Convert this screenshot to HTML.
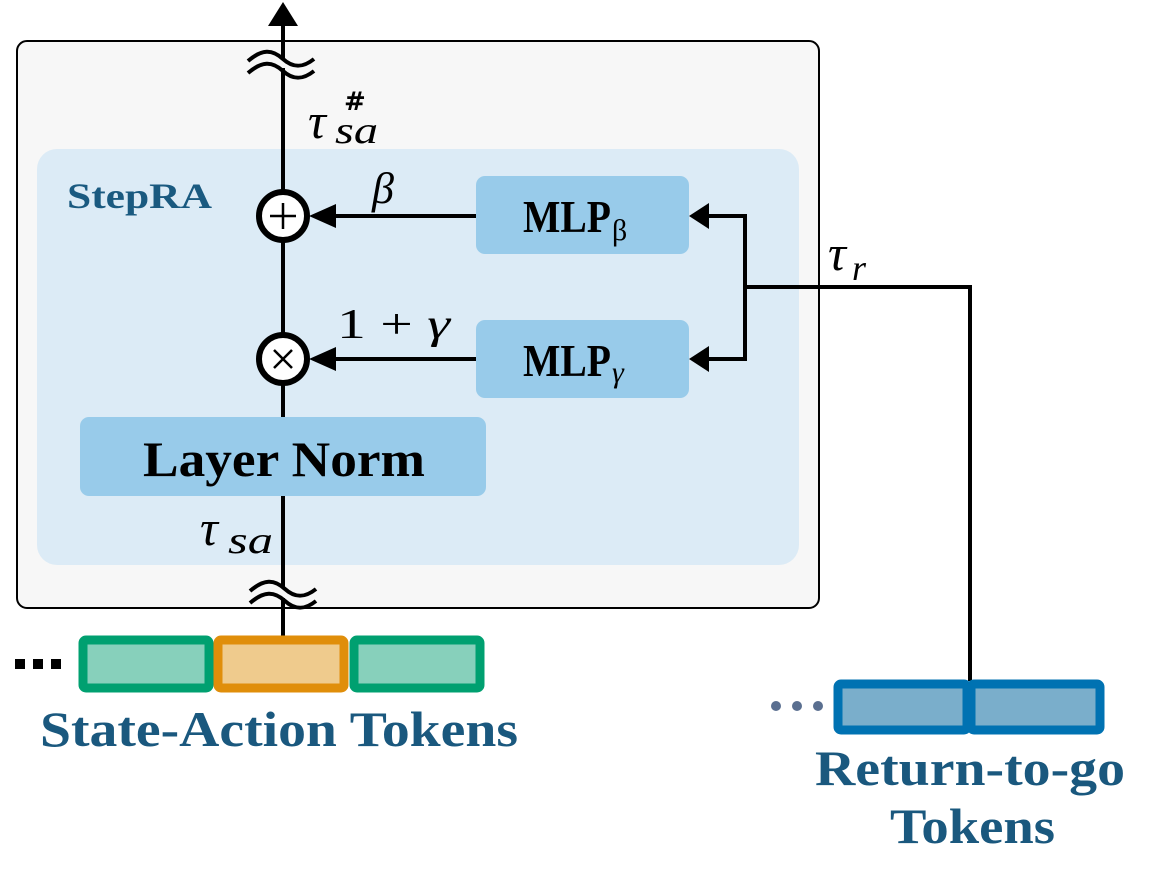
<!DOCTYPE html>
<html><head><meta charset="utf-8"><style>
html,body{margin:0;padding:0;background:#fff;}
svg{display:block;}
.m{font-family:"Liberation Serif",serif;font-style:italic;}
.b{font-family:"Liberation Serif",serif;font-weight:bold;}
</style></head><body>
<svg width="1163" height="891" viewBox="0 0 1163 891" xmlns="http://www.w3.org/2000/svg">
<rect x="17" y="41" width="802" height="567" rx="10" fill="#f7f7f7" stroke="#000" stroke-width="2"/>
<rect x="37" y="149" width="762" height="416" rx="20" fill="#dcebf6"/>
<text x="67" y="208" class="b" font-size="36" fill="#1a5a80" textLength="145" lengthAdjust="spacingAndGlyphs">StepRA</text>
<!-- main vertical -->
<line x1="283" y1="24" x2="283" y2="637" stroke="#000" stroke-width="4"/>
<polygon points="283,2 268,26 298,26" fill="#000"/>
<!-- squiggles -->
<rect x="276" y="58" width="14" height="10" fill="#f7f7f7"/>
<g fill="none" stroke="#000" stroke-width="4">
<path d="M248,61 C262,49 272,49 283,59 C294,69 304,67 314,59" />
<path d="M248,73 C262,61 272,61 283,71 C294,81 304,79 314,71" />
</g>
<rect x="276" y="588" width="14" height="10" fill="#f7f7f7"/>
<g fill="none" stroke="#000" stroke-width="4" transform="translate(2,530)">
<path d="M248,61 C262,49 272,49 283,59 C294,69 304,67 314,59" />
<path d="M248,73 C262,61 272,61 283,71 C294,81 304,79 314,71" />
</g>
<!-- labels -->
<text x="308" y="138" class="m" font-size="50">τ</text>
<text x="335" y="143" class="m" font-size="38" textLength="43" lengthAdjust="spacingAndGlyphs">sa</text>
<text x="344" y="110" font-family="DejaVu Sans,sans-serif" font-size="26" font-weight="bold">#</text>
<text x="200" y="545" class="m" font-size="50">τ</text>
<text x="228" y="553" class="m" font-size="38" textLength="45" lengthAdjust="spacingAndGlyphs">sa</text>
<text x="372" y="203" class="m" font-size="44">β</text>
<text x="337" y="338" font-family="Liberation Serif,serif" font-size="42" textLength="113" lengthAdjust="spacingAndGlyphs">1 + <tspan class="m">γ</tspan></text>
<text x="828" y="270" class="m" font-size="50">τ</text>
<text x="852" y="280" class="m" font-size="36">r</text>
<!-- circles -->
<circle cx="283" cy="216" r="24" fill="#fff" stroke="#000" stroke-width="6"/>
<path d="M283,203 V229 M270,216 H296" stroke="#000" stroke-width="2.5"/>
<circle cx="283" cy="359" r="24" fill="#fff" stroke="#000" stroke-width="6"/>
<path d="M274,350 L292,368 M292,350 L274,368" stroke="#000" stroke-width="2.5"/>
<!-- arrows into circles -->
<line x1="330" y1="216" x2="476" y2="216" stroke="#000" stroke-width="4"/>
<polygon points="309,216 336,204 336,228" fill="#000"/>
<line x1="330" y1="359" x2="476" y2="359" stroke="#000" stroke-width="4"/>
<polygon points="309,359 336,347 336,371" fill="#000"/>
<!-- boxes -->
<rect x="476" y="176" width="213" height="78" rx="9" fill="#98cbea"/>
<text x="523" y="232" class="b" font-size="46" textLength="88" lengthAdjust="spacingAndGlyphs">MLP</text>
<text x="612" y="240" font-family="Liberation Serif,serif" font-size="30">β</text>
<rect x="476" y="320" width="213" height="78" rx="9" fill="#98cbea"/>
<text x="523" y="376" class="b" font-size="46" textLength="88" lengthAdjust="spacingAndGlyphs">MLP</text>
<text x="612" y="382" class="m" font-size="30">γ</text>
<rect x="80" y="417" width="406" height="79" rx="9" fill="#98cbea"/>
<text x="143" y="476" class="b" font-size="50" textLength="282" lengthAdjust="spacingAndGlyphs">Layer Norm</text>
<!-- right connector -->
<path d="M708,216 H745 V359 H708 M745,287 H970 V681" fill="none" stroke="#000" stroke-width="4"/>
<polygon points="689,216 709,203 709,229" fill="#000"/>
<polygon points="689,359 709,346 709,372" fill="#000"/>
<!-- state-action tokens -->
<rect x="15" y="659" width="10" height="10" fill="#000"/>
<rect x="33" y="659" width="10" height="10" fill="#000"/>
<rect x="51" y="659" width="10" height="10" fill="#000"/>
<rect x="83" y="640" width="126" height="48" rx="3" fill="#87d0bb" stroke="#00a070" stroke-width="9"/>
<rect x="218" y="640" width="126" height="48" rx="3" fill="#efcb8d" stroke="#e08e0a" stroke-width="9"/>
<rect x="354" y="640" width="126" height="48" rx="3" fill="#87d0bb" stroke="#00a070" stroke-width="9"/>
<text x="40" y="746" class="b" font-size="50" fill="#1a587e" textLength="478" lengthAdjust="spacingAndGlyphs">State-Action Tokens</text>
<!-- return tokens -->
<circle cx="776" cy="706" r="5" fill="#5a6f90"/>
<circle cx="797" cy="706" r="5" fill="#5a6f90"/>
<circle cx="818" cy="706" r="5" fill="#5a6f90"/>
<rect x="838" y="684" width="129" height="46" rx="3" fill="#7aaecb" stroke="#0072b2" stroke-width="9"/>
<rect x="971" y="684" width="129" height="46" rx="3" fill="#7aaecb" stroke="#0072b2" stroke-width="9"/>
<text x="815" y="785" class="b" font-size="50" fill="#1a587e" textLength="310" lengthAdjust="spacingAndGlyphs">Return-to-go</text>
<text x="890" y="843" class="b" font-size="50" fill="#1a587e" textLength="165" lengthAdjust="spacingAndGlyphs">Tokens</text>
</svg>
</body></html>
